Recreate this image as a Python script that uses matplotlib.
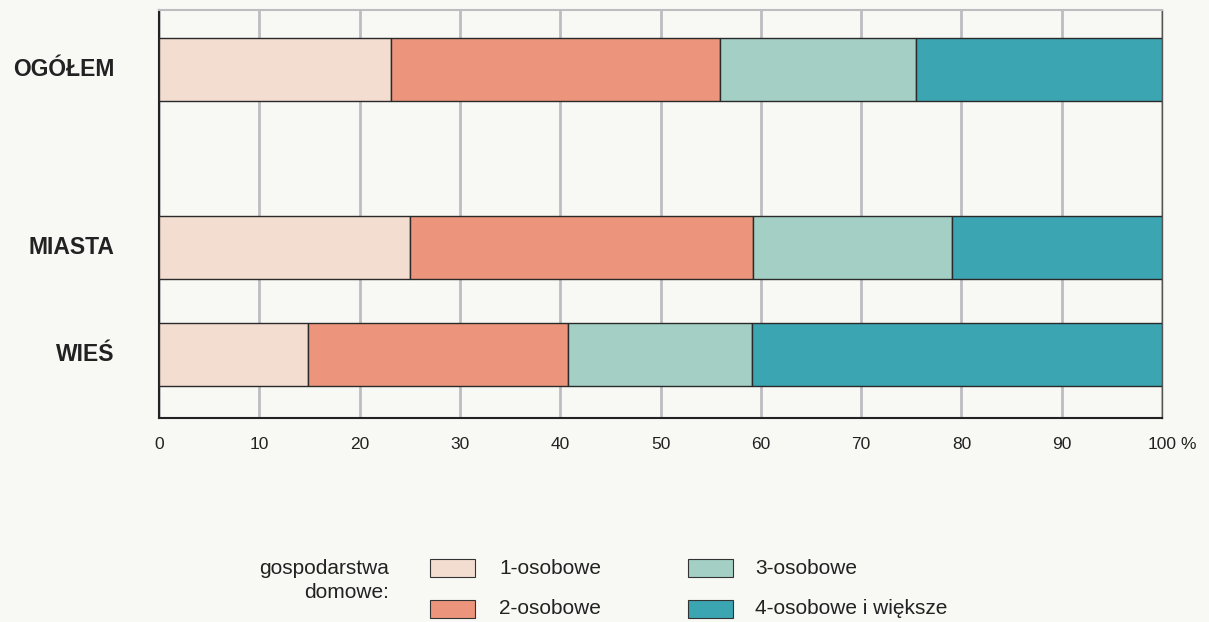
import matplotlib.pyplot as plt
from matplotlib.patches import Rectangle

categories = ["OGÓŁEM", "MIASTA", "WIEŚ"]
series_names = ["1-osobowe", "2-osobowe", "3-osobowe", "4-osobowe i większe"]
s1 = [23.1, 25.0, 14.9]
s2 = [32.8, 34.2, 25.9]
s3 = [19.6, 19.9, 18.3]
s4 = [24.5, 20.9, 40.9]
xticks = [0, 10, 20, 30, 40, 50, 60, 70, 80, 90, 100]
xticklabels = ["0", "10", "20", "30", "40", "50", "60", "70", "80", "90", "100"]
unit = "%"

colors = ["#f3ddd1", "#ec957c", "#a3cfc5", "#3ba5b2"]
bg = "#f8f8f4"
ypos = [5.49, 2.69, 1.0]

plt.rcParams['font.family'] = ['Liberation Sans', 'DejaVu Sans']
fig = plt.figure(figsize=(12.09, 6.22), dpi=100, facecolor=bg)
ax = fig.add_axes([159/1209, 1-418/622, (1162-159)/1209, 408/622])
ax.set_facecolor(bg)

left = [0, 0, 0]
for vals, c in zip([s1, s2, s3, s4], colors):
    ax.barh(ypos, vals, left=left, height=1.0, color=c, edgecolor="#2a2a2a",
            linewidth=1.0, zorder=3)
    left = [l + v for l, v in zip(left, vals)]

ax.set_xlim(0, 100)
ax.set_ylim(0, 6.43)
ax.set_xticks(xticks)
ax.set_xticklabels(xticklabels, fontsize=12.5, color="#222222")
ax.tick_params(axis='x', length=0, pad=13.5)
ax.set_yticks([])
ax.grid(axis='x', color="#bdbcc1", linewidth=2, zorder=1)
for s in ["left", "bottom"]:
    ax.spines[s].set_color("#222222")
    ax.spines[s].set_linewidth(1.5)
ax.spines["top"].set_color("#bdbcc1")
ax.spines["top"].set_linewidth(1.5)
ax.spines["right"].set_color("#555555")
ax.spines["right"].set_linewidth(1.0)

ax.annotate(unit, xy=(100, 0), xycoords=('data', 'axes fraction'),
            xytext=(13, -13.5), textcoords='offset points', ha='left', va='top',
            fontsize=12.5, color="#222222")

for cat, y in zip(categories, ypos):
    ax.text(-4.4, y, cat, ha="right", va="center", fontsize=16.5,
            fontweight="bold", color="#222222")

W, H = 1209, 622
fig.text(389/W, 1-569/H, "gospodarstwa", ha="right", va="center", fontsize=15, color="#222222")
fig.text(389/W, 1-592/H, "domowe:", ha="right", va="center", fontsize=15, color="#222222")

leg_pos = [(430, 568, 499), (430, 608.5, 499), (688, 568, 755), (688, 608.5, 755)]
for (px, py, tx), c, name in zip(leg_pos, colors, series_names):
    fig.patches.append(Rectangle((px/W, 1-(py+9)/H), 45/W, 18/H, transform=fig.transFigure,
                                 facecolor=c, edgecolor="#333333", linewidth=0.8))
    fig.text(tx/W, 1-(py+0.5)/H, name, ha="left", va="center", fontsize=15, color="#222222")

fig.savefig("out.png", dpi=100, facecolor=bg)
